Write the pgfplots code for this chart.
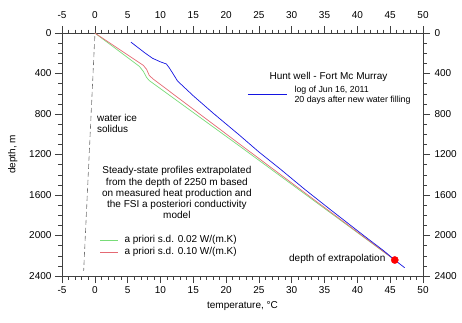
\documentclass[border=0pt]{standalone}
\usepackage{pgfplots}
\pgfplotsset{compat=1.18}
\usepackage{fontspec}
\setmainfont{Liberation Sans}
\definecolor{lgreen}{RGB}{120,220,120}
\definecolor{lred}{RGB}{228,105,115}
\definecolor{dblue}{RGB}{20,20,225}
\begin{document}
\begin{tikzpicture}[x=1pt,y=1pt]
\useasboundingbox (-62,-46) rectangle (400,276);
\pgfplotsset{common/.style={
  at={(0,0)}, anchor=south west,
  width=361pt, height=243pt, scale only axis,
  xmin=-5, xmax=50, ymin=0, ymax=2400, y dir=reverse,
  xtick={-5,0,...,50}, ytick={0,400,...,2400},
  minor x tick num=4, minor y tick num=3,
  tick align=outside,
  major tick length=7pt, minor tick length=3.5pt,
  tick style={black!75, line width=0.5pt},
  axis line style={black!75, line width=0.6pt},
  /pgf/number format/assume math mode=true,
  /pgf/number format/set thousands separator={},
  tick label style={font=\fontsize{10}{12}\selectfont},
}}
\begin{axis}[common,
  xtick pos=both, ytick pos=both,
  xticklabel pos=lower, yticklabel pos=left,
  xlabel={temperature, °C}, ylabel={depth, m},
  label style={font=\fontsize{10}{12}\selectfont},
  xlabel shift=1pt, ylabel shift=5pt,
  clip=false]
\addplot[black!55, dash pattern=on 5pt off 3pt, line width=0.6pt] coordinates {(0,30) (-1.7,2350)};
\addplot[lgreen, line width=0.7pt] coordinates {
(0,0) (6.8,330) (7.4,380) (7.9,440) (8.3,470) (21.97,1113) (45.7,2242)};
\addplot[lred, line width=0.7pt] coordinates {
(0,0) (7.4,320) (7.9,360) (8.3,420) (8.9,455) (21.9,1089) (45.7,2242)};
\addplot[dblue, line width=0.7pt] coordinates {
(5.5,90) (6.5,140) (7.6,195) (8.8,250) (10.0,285) (10.9,306) (11.3,340) (11.8,390) (12.6,474)
(15,620) (18,790) (22,1007) (25,1175) (28.3,1346) (32,1545) (36,1750) (41.2,2012) (44,2150) (45.7,2242) (47.2,2318)};
\addplot[only marks, mark=*, mark size=3.6pt, color=red] coordinates {(45.7,2242)};
% legend line samples
\addplot[dblue, line width=0.8pt] coordinates {(23.3,602) (29.3,602)};
\addplot[lgreen, line width=0.8pt] coordinates {(0.8,2044) (3.6,2044)};
\addplot[lred, line width=0.8pt] coordinates {(0.8,2163) (3.6,2163)};
\node[anchor=west, align=left, font=\fontsize{10}{11}\selectfont] at (axis cs:-0.2,894) {water ice\\solidus};
\node[font=\fontsize{10}{12}\selectfont] at (axis cs:35.6,435) {Hunt well - Fort Mc Murray};
\node[anchor=west, align=left, font=\fontsize{8.8}{10}\selectfont] at (axis cs:29.9,612) {log of Jun 16, 2011\\20 days after new water filling};
\node[align=center, font=\fontsize{10}{11.2}\selectfont] at (axis cs:12.5,1577) {Steady-state profiles extrapolated\\from the depth of 2250 m based\\on measured heat production and\\the FSI a posteriori conductivity\\model};
\node[anchor=west, font=\fontsize{10}{12}\selectfont] at (axis cs:4.0,2044) {a priori s.d. 0.02 W/(m.K)};
\node[anchor=west, font=\fontsize{10}{12}\selectfont] at (axis cs:4.0,2163) {a priori s.d. 0.10 W/(m.K)};
\node[anchor=east, font=\fontsize{10}{12}\selectfont] at (axis cs:44.8,2232) {depth of extrapolation};
\end{axis}
\begin{axis}[common,
  axis line style={draw=none},
  tick style={draw=none},
  xtick pos=upper, ytick pos=right,
  xticklabel pos=upper, yticklabel pos=right,
  xticklabel style={yshift=4pt},
  yticklabel style={xshift=1pt},
]
\addplot[draw=none] coordinates {(0,0)};
\end{axis}
\end{tikzpicture}
\end{document}
